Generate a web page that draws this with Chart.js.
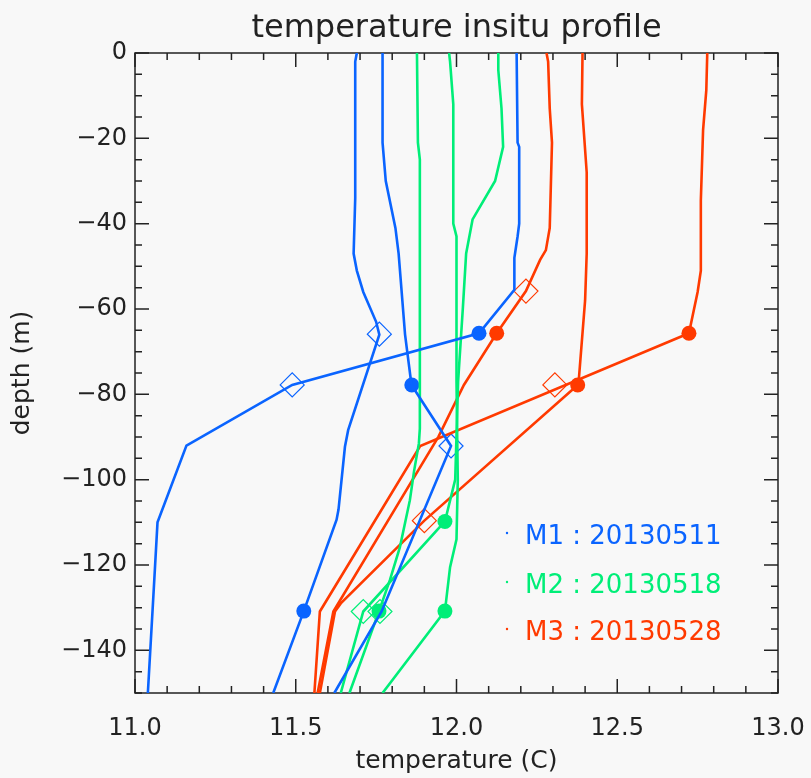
<!DOCTYPE html>
<html><head><meta charset="utf-8">
<script src="https://cdn.jsdelivr.net/npm/chart.js@4.4.1/dist/chart.umd.min.js"></script>
<style>html,body{margin:0;padding:0;background:#f8f8f8;overflow:hidden}</style>
</head><body>
<canvas id="c" width="811" height="778"></canvas>
<script>
// ---------- data (temperature °C, depth m) ----------
const xTickValues = [11.0, 11.5, 12.0, 12.5, 13.0];
const yTickValues = [0, -20, -40, -60, -80, -100, -120, -140];

// M1 : 20130511 (blue) - three profiles
const m1aT = [11.69, 11.685, 11.685, 11.68, 11.69, 11.71, 11.75, 11.76, 11.663, 11.653, 11.633, 11.627, 11.525, 11.43];
const m1aD = [0, -2, -34, -47, -51, -56, -63, -66, -88.4, -92.3, -107, -109.4, -130.8, -150];
const m1bT = [11.77, 11.77, 11.78, 11.81, 11.82, 11.84, 11.86, 11.983, 11.767, 11.62];
const m1bD = [0, -21, -30, -41, -47, -66, -77.8, -92.1, -130.9, -150];
const m1cT = [12.187, 12.19, 12.195, 12.195, 12.19, 12.18, 12.18, 12.07, 11.489, 11.16, 11.07, 11.06, 11.04];
const m1cD = [0, -21, -22, -40, -43, -48, -55.5, -65.7, -77.8, -92, -110, -123.5, -150];
const m1DotT = [12.07, 11.861, 11.525];
const m1DotD = [-65.7, -77.8, -130.8];
const m1DiaT = [11.76, 11.489, 11.983];
const m1DiaD = [-65.9, -77.8, -92.1];

// M2 : 20130518 (green) - three profiles
const m2aT = [11.877, 11.88, 11.886, 11.886, 11.883, 11.868, 11.855, 11.824, 11.793, 11.759, 11.667];
const m2aD = [0, -21, -25, -88, -91.5, -98, -104.8, -115.8, -123.5, -130.8, -150];
const m2bT = [11.977, 11.98, 11.99, 11.99, 12.0, 12.0, 12.004, 12.0, 11.98, 11.964, 11.77];
const m2bD = [0, -2, -12, -40, -43, -77, -100, -114, -120.5, -130.8, -150];
const m2cT = [12.13, 12.13, 12.14, 12.145, 12.12, 12.05, 12.03, 12.02, 12.005, 11.996, 11.964, 11.71, 11.64];
const m2cD = [0, -4, -13, -22, -30, -39, -47, -59.5, -77, -100, -109.8, -130.9, -150];
const m2DotT = [11.964, 11.759, 11.964];
const m2DotD = [-109.8, -130.8, -130.8];
const m2DiaT = [11.71, 11.762];
const m2DiaD = [-130.9, -130.9];

// M3 : 20130528 (red) - three profiles
const m3aT = [12.28, 12.285, 12.29, 12.297, 12.29, 12.278, 12.26, 12.216, 12.125, 12.023, 11.944, 11.617, 11.568];
const m3aD = [0, -2, -13, -21, -41, -46.2, -48.5, -55.8, -65.7, -77.8, -89.9, -130.9, -150];
const m3bT = [12.392, 12.39, 12.405, 12.405, 12.40, 12.38, 12.377, 11.90, 11.64, 11.622, 11.575];
const m3bD = [0, -12, -28, -47, -58, -77, -77.8, -109.6, -129, -130.9, -150];
const m3cT = [12.78, 12.777, 12.767, 12.76, 12.76, 12.75, 12.723, 11.887, 11.575, 11.558];
const m3cD = [0, -8.7, -18, -34.5, -51, -56, -65.7, -92.1, -130.9, -150];
const m3DotT = [12.125, 12.723, 12.377];
const m3DotD = [-65.7, -65.7, -77.8];
const m3DiaT = [12.216, 12.306, 11.90];
const m3DiaD = [-55.8, -77.8, -109.6];

const legendLabels = ['M1 : 20130511', 'M2 : 20130518', 'M3 : 20130528'];

// ---------- styling ----------
const BLUE = '#0a64ff', GREEN = '#00ee78', RED = '#ff3a00';
const INK = '#222222';
const FONT = 'DejaVu Sans';
Chart.defaults.font.family = FONT;

const pts = (T, D) => T.map((t, i) => ({x: t, y: D[i]}));
const lineDs = (T, D, c) => ({data: pts(T, D), showLine: true, borderColor: c, borderWidth: 2.6,
  pointRadius: 0, fill: false, tension: 0});
const dotDs = (T, D, c) => ({data: pts(T, D), showLine: false, pointStyle: 'circle', pointRadius: 7.5,
  backgroundColor: c, borderColor: c, borderWidth: 0});
const diaDs = (T, D, c) => ({data: pts(T, D), showLine: false, pointStyle: 'rectRot', pointRadius: 12,
  backgroundColor: 'rgba(0,0,0,0)', borderColor: c, borderWidth: 1.2});

const bgPlugin = {
  id: 'bg',
  beforeDraw(chart) {
    const ctx = chart.ctx;
    ctx.save(); ctx.fillStyle = '#f8f8f8';
    ctx.fillRect(0, 0, chart.width, chart.height); ctx.restore();
  }
};

const boxPlugin = {
  id: 'box',
  beforeDatasetsDraw(chart) {
    const {ctx, chartArea: a, scales: {x, y}} = chart;
    ctx.save();
    ctx.strokeStyle = INK; ctx.lineWidth = 1.5;
    ctx.strokeRect(a.left, a.top, a.right - a.left, a.bottom - a.top);
    ctx.beginPath();
    for (let i = 0; i <= 20; i++) {
      const v = x.min + i * 0.1;
      const px = x.getPixelForValue(v);
      const len = (i % 5 === 0) ? 14 : 7;
      ctx.moveTo(px, a.bottom); ctx.lineTo(px, a.bottom - len);
      ctx.moveTo(px, a.top); ctx.lineTo(px, a.top + len);
    }
    for (let i = 0; i <= 30; i++) {
      const v = y.min + i * 5;
      const py = y.getPixelForValue(v);
      const len = (Math.round(v) % 20 === 0) ? 14 : 7;
      ctx.moveTo(a.left, py); ctx.lineTo(a.left + len, py);
      ctx.moveTo(a.right, py); ctx.lineTo(a.right - len, py);
    }
    ctx.stroke();
    ctx.restore();
  }
};

const legendPlugin = {
  id: 'customLegend',
  afterDraw(chart) {
    const {ctx, chartArea: a} = chart;
    const colors = [BLUE, GREEN, RED];
    const baselines = [544, 593, 640];
    ctx.save();
    ctx.font = '26px "' + FONT + '"';
    ctx.textBaseline = 'alphabetic';
    ctx.textAlign = 'left';
    legendLabels.forEach((t, i) => {
      ctx.fillStyle = colors[i];
      ctx.beginPath();
      ctx.arc(a.left + 372, baselines[i] - 11, 1.2, 0, Math.PI * 2);
      ctx.fill();
      ctx.fillText(t, a.left + 390, baselines[i]);
    });
    ctx.restore();
  }
};

new Chart(document.getElementById('c'), {
  type: 'scatter',
  data: {
    datasets: [
      lineDs(m1aT, m1aD, BLUE), lineDs(m1bT, m1bD, BLUE), lineDs(m1cT, m1cD, BLUE),
      lineDs(m2aT, m2aD, GREEN), lineDs(m2bT, m2bD, GREEN), lineDs(m2cT, m2cD, GREEN),
      lineDs(m3aT, m3aD, RED), lineDs(m3bT, m3bD, RED), lineDs(m3cT, m3cD, RED),
      dotDs(m1DotT, m1DotD, BLUE), diaDs(m1DiaT, m1DiaD, BLUE),
      dotDs(m2DotT, m2DotD, GREEN), diaDs(m2DiaT, m2DiaD, GREEN),
      dotDs(m3DotT, m3DotD, RED), diaDs(m3DiaT, m3DiaD, RED)
    ]
  },
  options: {
    responsive: false,
    animation: false,
    layout: {padding: {left: 0, right: 33, top: 0, bottom: 0}},
    plugins: {
      legend: {display: false},
      tooltip: {enabled: false},
      title: {display: true, fullSize: false, text: 'temperature insitu profile', color: INK,
        font: {family: FONT, size: 32, weight: 'normal', lineHeight: 1.2},
        padding: {top: 9, bottom: 5.6}}
    },
    scales: {
      x: {
        type: 'linear', min: 11, max: 13,
        afterBuildTicks(s) { s.ticks = xTickValues.map(v => ({value: v})); },
        ticks: {callback: v => Number(v).toFixed(1), color: INK, font: {size: 24},
          padding: 0, maxRotation: 0, autoSkip: false},
        grid: {display: true, drawOnChartArea: false, drawTicks: true, tickLength: 21,
          color: 'rgba(0,0,0,0)'},
        border: {display: false},
        title: {display: true, text: 'temperature (C)', color: INK, font: {size: 25},
          padding: {top: 0, bottom: 2}},
        afterFit(s) { s.height = 85; }
      },
      y: {
        type: 'linear', min: -150, max: 0,
        afterBuildTicks(s) { s.ticks = yTickValues.slice().reverse().map(v => ({value: v})); },
        ticks: {callback: v => v === 0 ? '0' : '\u2212' + Math.abs(v), color: INK, font: {size: 24},
          padding: 8, autoSkip: false},
        grid: {display: false, drawTicks: false},
        border: {display: false},
        title: {display: true, text: 'depth (m)', color: INK, font: {size: 25},
          padding: {top: 7, bottom: 0}},
        afterFit(s) { s.width = 135; }
      }
    }
  },
  plugins: [bgPlugin, boxPlugin, legendPlugin]
});
</script>
</body></html>
